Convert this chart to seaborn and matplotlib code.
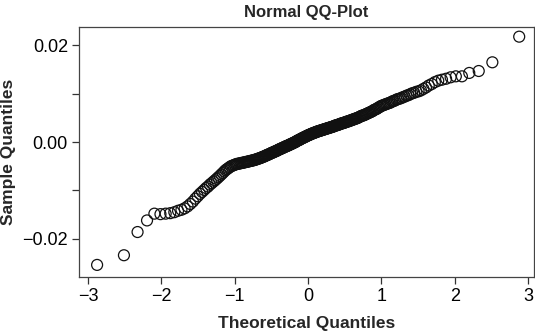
import statistics
import matplotlib
matplotlib.use("Agg")
import matplotlib.pyplot as plt
import seaborn as sns
import pandas as pd
from matplotlib import font_manager

# Sorted sample quantiles (units of 1e-4)
sample_e4 = [
    -254, -234, -186, -162, -148, -149, -148, -147, -145, -142,
    -140, -137, -133, -128, -123, -117, -112, -107, -103, -99,
    -95, -92, -88, -85, -82, -79, -76, -73, -70, -67,
    -64, -61, -58, -56, -54, -52, -50, -49, -48, -47,
    -46, -45, -45, -44, -44, -43, -43, -42, -42, -41,
    -41, -40, -40, -39, -39, -38, -38, -37, -37, -36,
    -35, -35, -34, -33, -33, -32, -31, -30, -30, -29,
    -28, -27, -26, -26, -25, -24, -23, -22, -22, -21,
    -20, -19, -19, -18, -17, -16, -15, -15, -14, -13,
    -12, -12, -11, -10, -9, -9, -8, -7, -7, -6,
    -5, -4, -4, -3, -2, -1, -1, 0, 1, 2,
    3, 4, 4, 5, 6, 7, 8, 8, 9, 10,
    11, 11, 12, 13, 14, 14, 15, 16, 16, 17,
    18, 18, 19, 19, 20, 21, 21, 22, 22, 23,
    23, 24, 24, 25, 25, 26, 26, 27, 27, 28,
    28, 29, 29, 30, 30, 31, 31, 32, 32, 33,
    34, 34, 35, 35, 36, 36, 37, 38, 38, 39,
    39, 40, 40, 41, 42, 42, 43, 43, 44, 45,
    45, 46, 47, 47, 48, 49, 49, 50, 51, 52,
    53, 54, 55, 55, 56, 57, 58, 59, 60, 61,
    62, 63, 64, 66, 67, 68, 69, 71, 72, 74,
    75, 76, 77, 78, 79, 80, 81, 82, 84, 85,
    86, 88, 89, 90, 91, 93, 94, 96, 97, 99,
    101, 102, 104, 105, 107, 110, 113, 117, 120, 124,
    127, 129, 131, 134, 136, 136, 143, 147, 165, 218,
]
sample = [v * 1e-4 for v in sample_e4]

x_ticks = [-3, -2, -1, 0, 1, 2, 3]
y_ticks = [-0.02, -0.01, 0.0, 0.01, 0.02]
y_tick_labels = ["\u22120.02", "", "0.00", "", "0.02"]
title = "Normal QQ-Plot"
x_label = "Theoretical Quantiles"
y_label = "Sample Quantiles"

# Theoretical normal quantiles (as R's qqnorm: ppoints)
n = len(sample)
a = 3 / 8 if n <= 10 else 0.5
nd = statistics.NormalDist()
theoretical = [nd.inv_cdf((i - a) / (n + 1 - 2 * a)) for i in range(1, n + 1)]
df = pd.DataFrame({"theoretical": theoretical, "sample": sample})

sns.set_theme(style="white")
names = {f.name for f in font_manager.fontManager.ttflist}
fam = ["Liberation Sans Narrow"] if "Liberation Sans Narrow" in names else ["Liberation Sans"]
plt.rcParams["font.family"] = fam + ["DejaVu Sans"]

fig = plt.figure(figsize=(5.35, 3.34), dpi=100)
ax = fig.add_axes([79 / 535, 1 - 277 / 334, (534 - 79) / 535, (277 - 27) / 334])

sns.scatterplot(data=df, x="theoretical", y="sample", ax=ax, marker="o",
                s=62, facecolors="none", edgecolor="#111111", linewidth=0.9)

ax.set_xlim(-3.125, 3.08)
ax.set_ylim(-0.0279, 0.0238)
ax.set_xticks(x_ticks)
ax.set_xticklabels([("\u2212" + str(-t)) if t < 0 else str(t) for t in x_ticks])
ax.set_yticks(y_ticks)
ax.set_yticklabels(y_tick_labels)
ax.tick_params(axis="both", which="major", direction="out", length=5, width=0.9,
               color="#333333", labelsize=13, labelcolor="black", pad=3,
               bottom=True, left=True)
for sp in ax.spines.values():
    sp.set_visible(True)
    sp.set_color("#444444")
    sp.set_linewidth(0.9)

ax.set_title(title, fontsize=12, fontweight="bold", pad=7)
ax.set_xlabel(x_label, fontsize=12.5, fontweight="bold", labelpad=8)
ax.set_ylabel(y_label, fontsize=12.5, fontweight="bold", va="center")
ax.yaxis.set_label_coords(-70 / 455, 0.5)

fig.savefig("out.png", dpi=100)
